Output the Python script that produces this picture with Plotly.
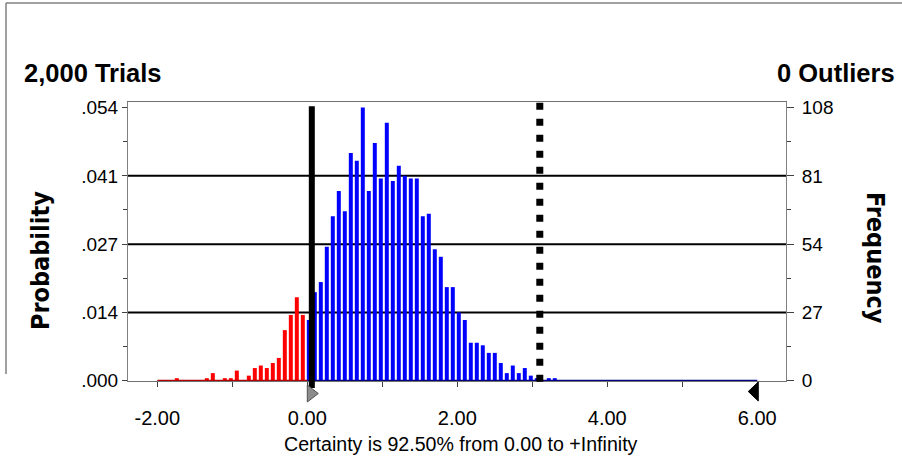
import plotly.graph_objects as go

# ---------------- data ----------------
TRIALS = 2000
OUTLIERS = 0
BIN_START = -2.0
BIN_WIDTH = 0.08
COUNTS = [
    0, 0, 0, 1, 0, 0, 0, 0, 1, 3,
    0, 1, 1, 4, 0, 2, 5, 6, 5, 7,
    9, 20, 26, 33, 26, 24, 35, 39, 53, 65,
    75, 67, 90, 87, 108, 75, 94, 80, 102, 79,
    85, 81, 80, 80, 65, 66, 52, 49, 37, 37,
    27, 24, 15, 15, 14, 11, 11, 7, 3, 6,
    3, 5, 2, 1, 0, 1, 1, 0, 0, 0,
    0, 0, 0, 0, 0, 0, 0, 0, 0, 0,
    0, 0, 0, 0, 0, 0, 0, 0, 0, 0,
    0, 0, 0, 0, 0, 0, 0, 0, 0, 0,
]
CERTAINTY_FROM = 0.0
CERTAINTY_PCT = 92.50
BASE_VALUE = 0.06
DOTTED_VALUE = 3.1
X_TICKS = [-2, 0, 2, 4, 6]
X_TICK_LABELS = ["-2.00", "0.00", "2.00", "4.00", "6.00"]
X_MINOR = [-1, 1, 3, 5]
Y_TICKS = [0, 27, 54, 81, 108]
PROB_LABELS = [".000", ".014", ".027", ".041", ".054"]
FREQ_LABELS = ["0", "27", "54", "81", "108"]
Y_MINOR = [13.5, 40.5, 67.5, 94.5]
Y_GRID = [27, 54, 81]

# ---------------- derived ----------------
edges = [BIN_START + BIN_WIDTH * i for i in range(len(COUNTS))]
centers = [e + BIN_WIDTH / 2 for e in edges]
axis_end = BIN_START + BIN_WIDTH * len(COUNTS)
red_x = [c for c, e in zip(centers, edges) if e < CERTAINTY_FROM]
red_y = [n for n, e in zip(COUNTS, edges) if e < CERTAINTY_FROM]
blue_x = [c for c, e in zip(centers, edges) if e >= CERTAINTY_FROM]
blue_y = [n for n, e in zip(COUNTS, edges) if e >= CERTAINTY_FROM]

FONT = "Liberation Sans, Arial, sans-serif"
BW = 0.053
OFF = -0.0465

fig = go.Figure()
fig.add_trace(go.Bar(x=red_x, y=red_y, width=BW, offset=OFF,
                     marker=dict(color="#FF0000", line=dict(width=0)),
                     hoverinfo="skip", showlegend=False))
fig.add_trace(go.Bar(x=blue_x, y=blue_y, width=BW, offset=OFF,
                     marker=dict(color="#0000FF", line=dict(width=0)),
                     hoverinfo="skip", showlegend=False))
fig.add_trace(go.Scatter(x=[BIN_START, CERTAINTY_FROM], y=[0, 0], mode="lines",
                         line=dict(color="#B00000", width=2),
                         hoverinfo="skip", showlegend=False))
fig.add_trace(go.Scatter(x=[CERTAINTY_FROM, axis_end], y=[0, 0], mode="lines",
                         line=dict(color="#000080", width=2),
                         hoverinfo="skip", showlegend=False, yaxis="y2"))

YR = [-0.12, 110.2]
shapes = []
for g in Y_GRID:
    shapes.append(dict(type="line", xref="paper", x0=0, x1=1, yref="y", y0=g, y1=g,
                       line=dict(color="#000000", width=2), layer="below"))
# vertical markers
shapes.append(dict(type="line", xref="x", x0=BASE_VALUE, x1=BASE_VALUE,
                   yref="paper", y0=-0.025, y1=0.985,
                   line=dict(color="#000000", width=6), layer="above"))
shapes.append(dict(type="line", xref="x", x0=DOTTED_VALUE, x1=DOTTED_VALUE,
                   yref="paper", y0=-0.003, y1=1.005,
                   line=dict(color="#000000", width=7, dash="7px,9px"), layer="above"))
# certainty grabbers
shapes.append(dict(type="path", xref="x", xsizemode="pixel", xanchor=CERTAINTY_FROM,
                   yref="paper", ysizemode="pixel", yanchor=0,
                   path="M0,-4 L0,-21 L11,-12.5 Z",
                   fillcolor="#8C8C8C", line=dict(color="#505050", width=1)))
shapes.append(dict(type="path", xref="x", xsizemode="pixel", xanchor=axis_end,
                   yref="paper", ysizemode="pixel", yanchor=0,
                   path="M1,-1 L1,-20 L-9,-10.5 Z",
                   fillcolor="#000000", line=dict(color="#000000", width=1)))
# outer frame
shapes.append(dict(type="line", xref="paper", yref="paper", x0=-0.1854, x1=1.18,
                   y0=1.3548, y1=1.3548, line=dict(color="#808080", width=1.5)))
shapes.append(dict(type="line", xref="paper", yref="paper", x0=-0.1854, x1=-0.1854,
                   y0=1.3548, y1=0.025, line=dict(color="#808080", width=1.5)))

annotations = [
    dict(text="%s Trials" % format(TRIALS, ","), xref="paper", yref="paper",
         x=-0.1611, y=1.104, xanchor="left", yanchor="middle", showarrow=False,
         font=dict(family=FONT, size=25.5, color="#000000", weight="bold")),
    dict(text="%d Outliers" % OUTLIERS, xref="paper", yref="paper",
         x=1.1687, y=1.104, xanchor="right", yanchor="middle", showarrow=False,
         font=dict(family=FONT, size=25.5, color="#000000", weight="bold")),
    dict(text="Probability", xref="paper", yref="paper", x=-0.1337, y=0.43,
         xanchor="center", yanchor="middle", textangle=-90, showarrow=False,
         font=dict(family="DejaVu Sans Condensed, DejaVu Sans", size=25,
                   color="#000000", weight="bold")),
    dict(text="Frequency", xref="paper", yref="paper", x=1.1353, y=0.441,
         xanchor="center", yanchor="middle", textangle=90, showarrow=False,
         font=dict(family="DejaVu Sans Condensed, DejaVu Sans", size=25,
                   color="#000000", weight="bold")),
    dict(text="Certainty is %.2f%% from %.2f to +Infinity" % (CERTAINTY_PCT, CERTAINTY_FROM),
         xref="paper", yref="paper", x=0.506, y=-0.2258, xanchor="center",
         yanchor="middle", showarrow=False,
         font=dict(family=FONT, size=19.6, color="#000000")),
]

fig.update_layout(
    width=902, height=462,
    margin=dict(l=128, r=116, t=102, b=81, pad=0),
    paper_bgcolor="#FFFFFF", plot_bgcolor="#FFFFFF",
    barmode="overlay", showlegend=False,
    shapes=shapes, annotations=annotations,
    xaxis=dict(range=[-2.391, 6.383], tickmode="array", tickvals=X_TICKS,
               ticktext=X_TICK_LABELS, ticks="outside", ticklen=5,
               tickcolor="#404040", showline=True, linecolor="#707070",
               linewidth=1, mirror=True, showgrid=False, zeroline=False,
               ticklabelstandoff=14,
               tickfont=dict(family=FONT, size=20, color="#000000"),
               minor=dict(tickvals=X_MINOR, ticks="outside", ticklen=5,
                          tickcolor="#404040", showgrid=False)),
    yaxis=dict(range=YR, tickmode="array", tickvals=Y_TICKS, ticktext=PROB_LABELS,
               ticks="outside", ticklen=5, tickcolor="#404040", showline=True,
               linecolor="#808080", linewidth=1, showgrid=False, zeroline=False,
               ticklabelstandoff=0,
               tickfont=dict(family=FONT, size=19, color="#000000"),
               minor=dict(tickvals=Y_MINOR, ticks="outside", ticklen=4,
                          tickcolor="#404040", showgrid=False)),
    yaxis2=dict(range=YR, overlaying="y", side="right", tickmode="array",
                tickvals=Y_TICKS, ticktext=FREQ_LABELS, ticks="outside", ticklen=7,
                tickcolor="#404040", showline=True, linecolor="#808080",
                linewidth=1, showgrid=False, zeroline=False,
                ticklabelstandoff=4,
                tickfont=dict(family=FONT, size=19, color="#000000"),
                minor=dict(tickvals=Y_MINOR, ticks="outside", ticklen=4,
                           tickcolor="#404040", showgrid=False)),
)

fig.write_html("out.html", config={"displayModeBar": False},
               post_script="document.body.style.margin='0';document.body.style.padding='0';")
